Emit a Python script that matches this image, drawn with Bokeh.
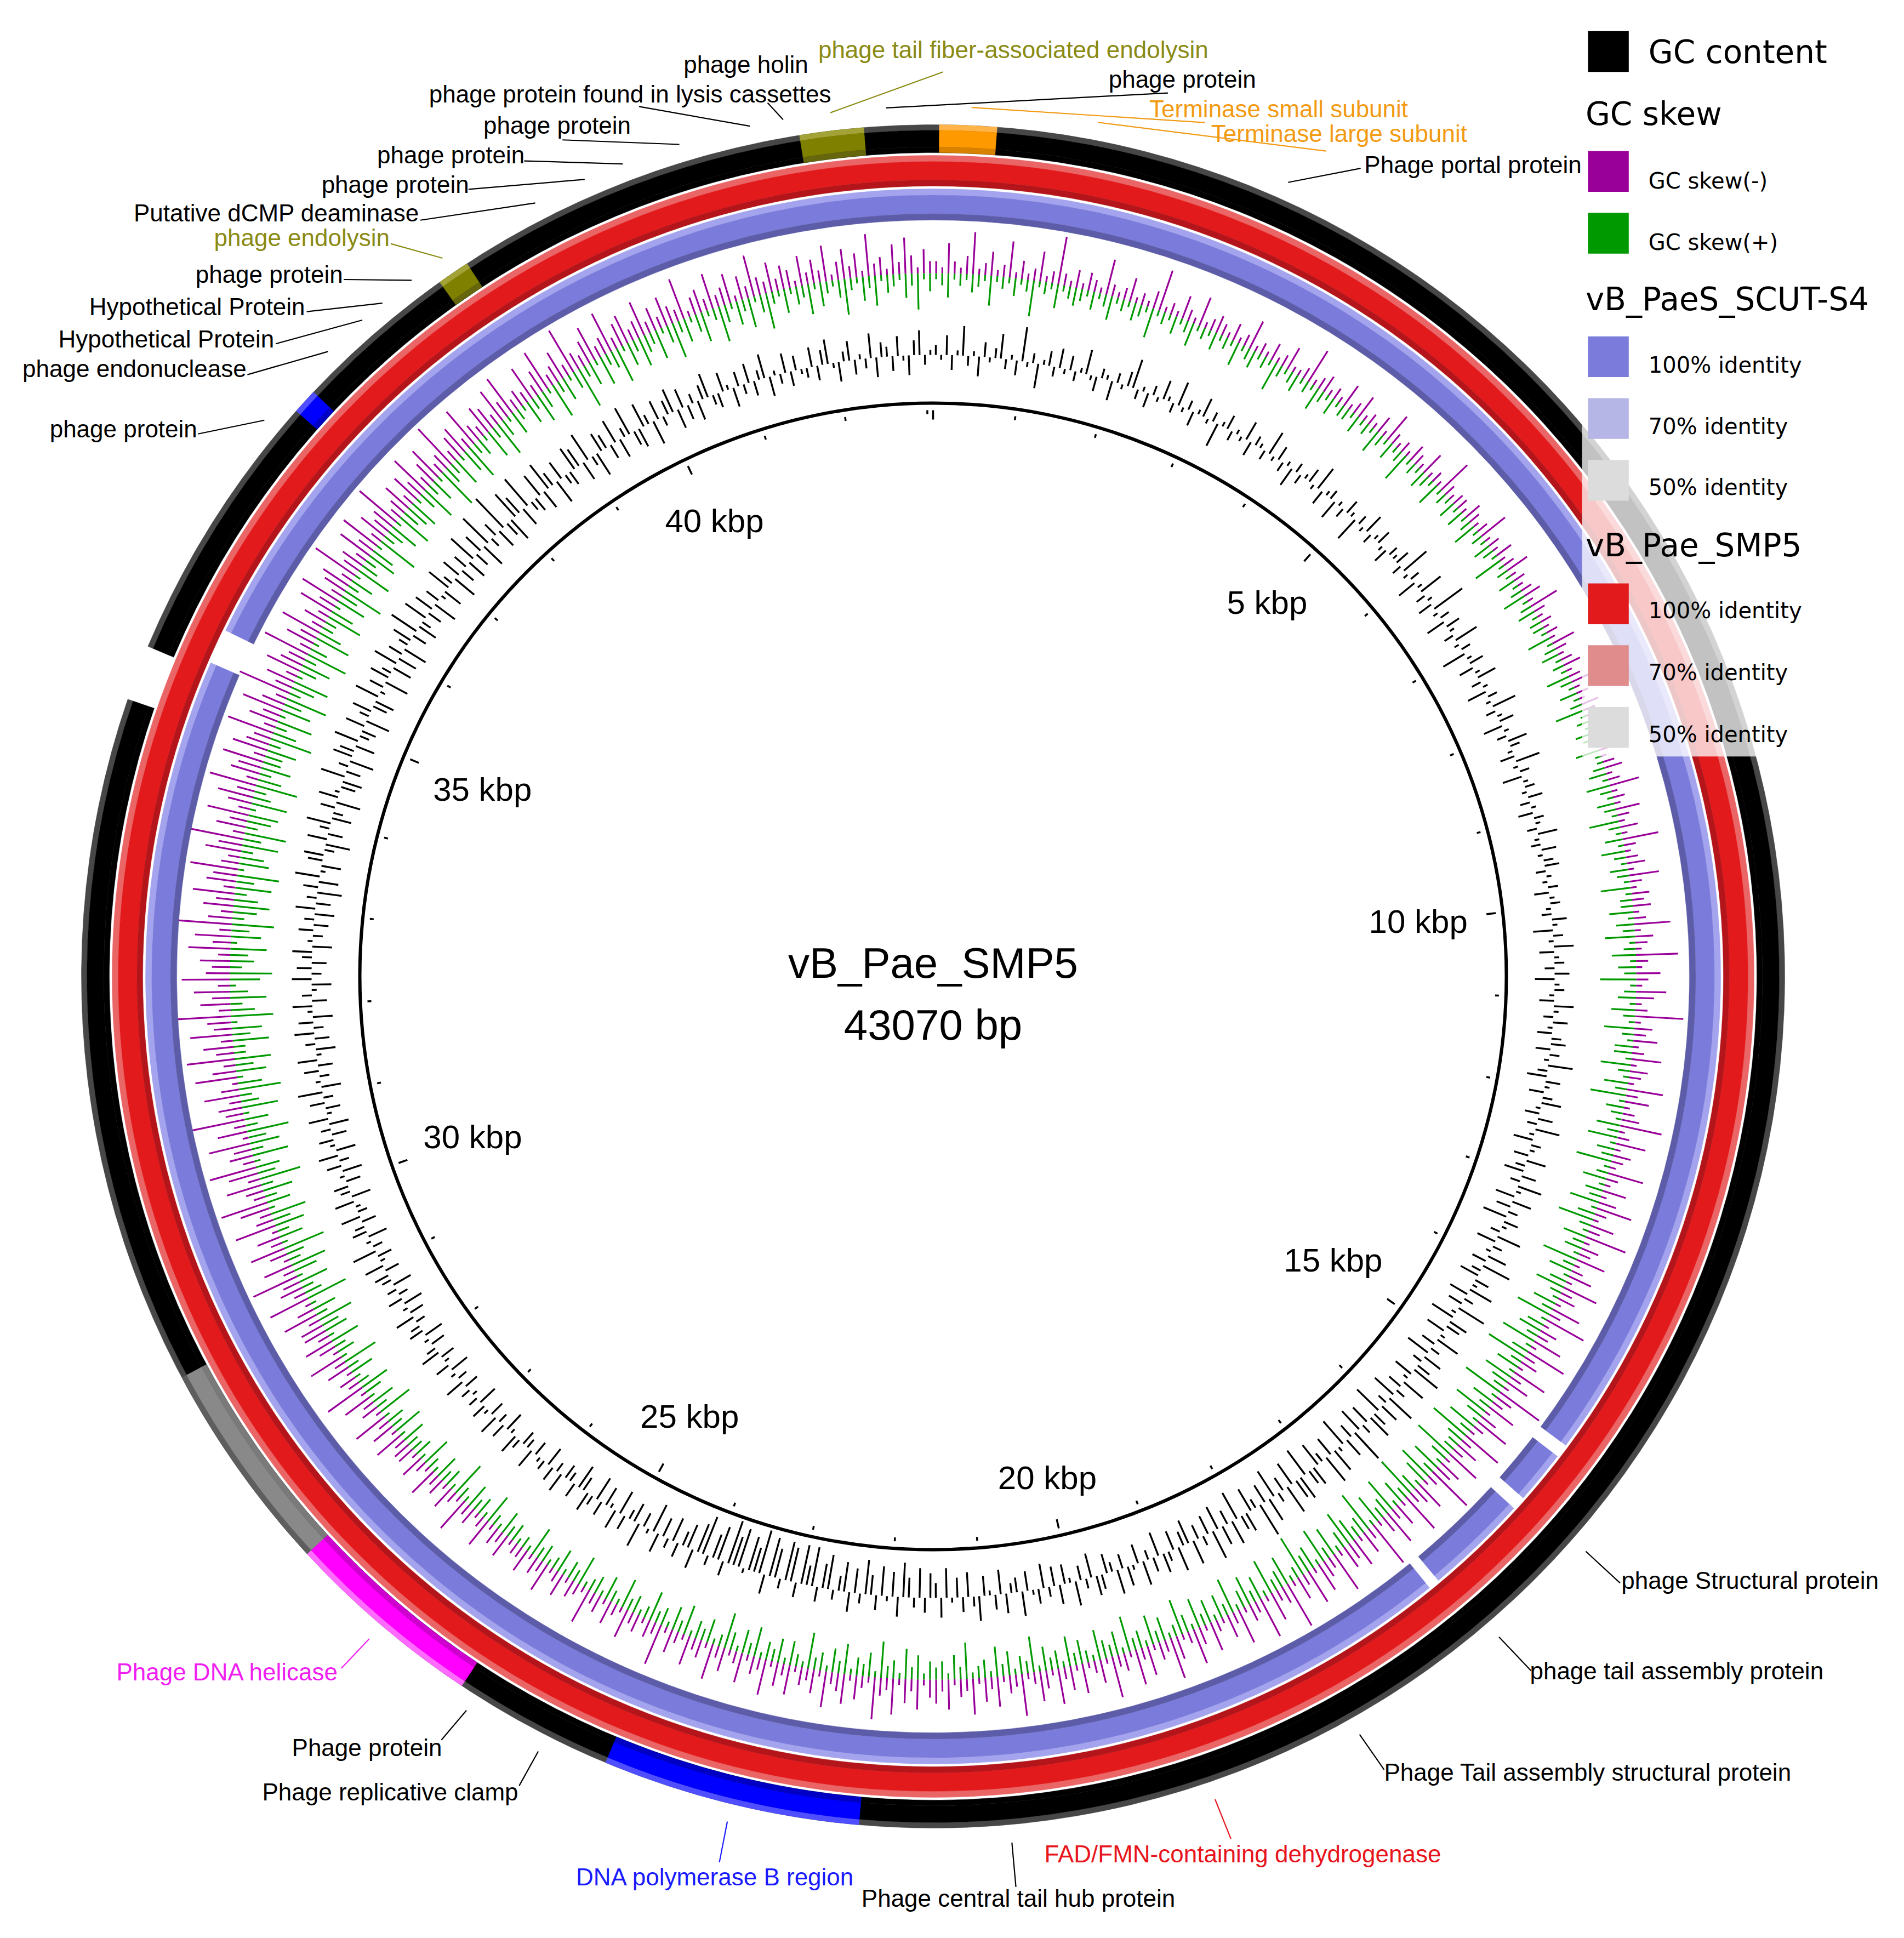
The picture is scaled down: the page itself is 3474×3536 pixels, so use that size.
import math
from bokeh.plotting import figure
from bokeh.models import Range1d
from bokeh.core.properties import value
from bokeh.embed import file_html
from bokeh.resources import INLINE

# ---------------- data ----------------
GENOME_NAME = "vB_Pae_SMP5"
GENOME_LEN = 43070
TICK_MAJOR = 5000
TICK_MINOR = 1000
TICK_LABEL_BP = [5000, 10000, 15000, 20000, 25000, 30000, 35000, 40000]
TICK_LABELS = ["5 kbp", "10 kbp", "15 kbp", "20 kbp", "25 kbp", "30 kbp", "35 kbp", "40 kbp"]

# coloured CDS features on the outer ring (bp)
FEATURE_START = [50, 41990, 38835, 37280, 25555, 27195, 22133]
FEATURE_END = [516, 42511, 39100, 37485, 27195, 28940, 24240]
FEATURE_COLOR = ["orange", "olive", "olive", "blue", "magenta", "gray", "blue"]
BACKBONE_GAP = [34575, 35030]

# BLAST hits
SMP5_HIT_START = [0]
SMP5_HIT_END = [43070]
SCUT_HIT_START = [0, 15260, 15850, 16860, 35420]
SCUT_HIT_END = [15140, 15730, 16760, 35110, 43070]

# annotated genes: label text, position (bp), colour
GENE_LABELS = [
    "phage tail fiber-associated endolysin", "phage holin", "phage protein found in lysis cassettes",
    "phage protein", "Terminase small subunit", "Terminase large subunit", "Phage portal protein",
    "phage protein", "phage protein", "phage protein", "Putative dCMP deaminase", "phage endolysin",
    "phage protein", "Hypothetical Protein", "Hypothetical Protein", "phage endonuclease", "phage protein",
    "phage Structural protein", "phage tail assembly protein", "Phage Tail assembly structural protein",
    "FAD/FMN-containing dehydrogenase", "Phage central tail hub protein", "DNA polymerase B region",
    "Phage replicative clamp", "Phage protein", "Phage DNA helicase"]
GENE_POS = [42259, 41882, 41615, 42699, 303, 1307, 2882, 41041, 40568, 40245, 39813, 38962,
            38663, 38370, 38163, 37797, 37058, 15718, 16679, 18022, 19272, 20913, 23172,
            24765, 25417, 26369]
GENE_COLOR = ["olive", "black", "black", "black", "orange", "orange", "black", "black", "black",
              "black", "black", "olive", "black", "black", "black", "black", "black", "black",
              "black", "black", "red", "black", "blue", "black", "black", "magenta"]

# GC content deviation per 0.5 degree window (arbitrary units, + outward)
GC_CONTENT = [
    2,-1,4,-3,1,6,-2,1,-4,3,-1,2,5,-2,1,-3,7,-1,2,-5,1,3,-2,4,
    -1,3,-2,1,5,-1,-3,2,1,-4,2,-1,3,6,-2,1,-3,2,-1,4,1,-2,5,-1,
    2,-3,1,4,-1,2,-5,1,3,-2,1,-1,4,-3,2,1,-2,5,-1,3,-2,1,-4,2,
    -2,1,3,-1,5,-3,1,2,-4,1,-2,3,1,-5,2,-1,4,-2,1,3,-1,-3,2,1,
    3,-2,6,-1,2,-4,1,5,-2,1,-3,7,-1,2,-4,3,1,-2,5,-1,2,-5,1,3,
    -3,1,4,-2,1,-4,2,-1,5,-2,1,3,-4,1,-2,4,2,-1,-3,5,-1,2,-4,1,
    2,-1,3,-2,1,-3,2,1,-2,4,-1,-2,3,-1,2,3,-2,1,-1,2,-3,1,2,-1,
    -2,3,1,-4,2,-1,4,-3,1,2,-2,3,-4,1,2,-1,-3,4,1,-2,3,-1,-3,2,
    3,-3,2,-1,5,-2,-4,3,1,-3,2,4,-1,-3,3,-2,5,-1,-4,2,1,-3,4,-2,
    -4,3,-2,5,1,-4,4,-3,2,-5,3,1,-2,5,-4,2,-1,4,-3,6,-2,-4,3,1,
    5,-4,2,-3,6,-1,-5,4,3,-4,1,5,-3,2,-5,4,-2,3,6,-4,-1,5,-3,2,
    -5,6,-2,4,-6,3,5,-4,2,-5,7,-3,4,-6,1,5,-4,6,-2,-5,4,3,-6,5,
    4,-5,6,-3,2,-6,5,-4,7,-2,-5,4,3,-6,5,-3,4,-5,6,-4,2,-3,5,-5,
    -3,5,-4,2,4,-5,3,-2,5,-4,1,4,-3,5,-2,-4,3,4,-5,2,-3,5,-1,-4,
    4,-4,2,-5,3,1,-4,5,-3,-2,4,-5,3,-1,-4,5,2,-5,3,-4,1,-6,4,-3,
    -5,3,-6,2,-4,-7,4,-5,1,-6,3,-4,-7,2,-5,4,-6,-3,2,-7,-5,3,-8,-4,
    -8,3,-7,-8,2,-6,-8,4,-9,-5,-7,1,-8,-6,-9,3,-7,-5,2,-8,-6,4,-5,-3,
    3,-5,2,-4,4,-6,1,-3,5,-4,-2,3,-5,4,-1,-4,3,-5,2,4,-3,-5,3,-2,
    -3,4,-2,3,-4,2,1,-3,4,-2,-3,2,4,-1,-4,3,-2,4,-3,1,3,-4,2,-1,
    2,-3,4,-2,1,-4,3,-1,-3,4,2,-3,1,-4,3,2,-2,4,-3,1,-4,3,-2,2,
    -4,2,3,-3,4,-1,-3,5,-2,1,-4,3,2,-3,4,-2,-1,4,-4,2,3,-3,1,-4,
    3,-2,4,-4,1,3,-3,2,-4,4,-1,-3,3,-2,5,-4,1,-2,3,-3,4,-1,-4,2,
    -3,4,-2,3,-4,1,4,-3,2,-1,-4,4,-2,3,-3,2,4,-4,1,-2,3,-3,2,-4,
    4,-3,2,-5,3,-4,5,-1,-4,3,4,-2,-5,4,-3,2,5,-4,-2,3,-5,4,1,-3,
    -4,5,-3,2,-5,4,3,-4,5,-2,-3,4,-5,2,4,-3,-4,5,-1,3,-5,4,2,-4,
    5,-4,3,-5,2,4,-3,6,-4,-2,5,-3,4,-5,3,-1,-4,5,2,-5,4,-3,3,-4,
    6,-3,4,-5,7,-2,3,-4,8,-3,-5,6,4,-4,7,-2,-3,5,-4,6,3,-5,4,-2,
    -3,5,4,-4,6,-2,-5,4,3,-3,5,-4,2,6,-3,-4,5,2,-5,4,-2,3,5,-4,
    4,-3,2,-4,3,5,-2,-3,4,1,-4,3,-2,4,-3,2,5,-4,1,-2,4,-3,3,-1,
    -2,4,-3,3,5,-1,-4,2,4,-3,1,-2,5,-4,3,2,-3,4,-1,-4,3,5,-2,1]

# GC skew(-) magnitude per 0.5 degree window (drawn outward, purple)
SKEW_NEG = [
    2,1,5,2,1,3,7,1,2,4,1,2,6,1,3,1,2,5,1,2,8,2,1,3,
    1,3,2,1,6,2,1,2,4,1,2,1,3,7,1,2,1,4,2,1,5,1,2,3,
    2,1,3,1,2,5,1,2,1,3,1,2,4,1,1,2,6,1,2,3,1,2,1,4,
    1,2,4,1,2,1,3,1,5,2,1,2,1,3,2,1,4,1,2,1,6,2,1,2,
    2,1,3,2,1,2,5,1,2,1,3,1,2,4,1,2,1,2,3,1,5,2,1,2,
    1,2,1,4,2,1,2,3,1,2,5,1,2,1,3,2,1,4,1,2,1,3,2,1,
    2,3,1,2,5,1,2,1,4,2,1,3,1,6,2,1,2,3,1,5,2,1,3,2,
    3,1,2,6,1,3,2,1,7,2,1,4,2,1,5,3,1,2,8,1,3,2,4,1,
    2,5,1,3,2,1,6,2,4,1,2,3,7,1,2,5,1,3,2,1,6,2,1,4,
    1,3,6,2,1,4,2,7,1,3,2,5,1,2,4,1,6,2,3,1,5,2,7,1,
    3,2,5,1,7,2,3,1,6,2,4,1,8,3,2,5,1,3,6,2,1,7,2,4,
    2,6,1,4,3,8,2,1,5,3,2,7,1,4,2,6,3,1,8,2,4,1,5,3,
    4,1,7,2,3,5,1,6,2,4,1,8,3,2,5,1,7,2,3,1,6,2,4,1,
    2,5,1,3,6,2,1,4,7,2,3,1,5,2,6,1,3,2,7,1,4,2,1,5,
    1,4,2,6,1,3,5,2,1,7,2,3,1,5,2,4,1,6,2,3,1,5,2,4,
    3,1,5,2,4,1,6,2,3,7,1,2,4,1,5,3,2,6,1,4,2,3,1,5,
    2,4,1,6,2,3,1,5,2,1,4,2,6,1,3,2,5,1,2,4,1,7,2,3,
    1,3,2,5,1,2,4,1,3,2,6,1,2,3,1,4,2,1,5,2,3,1,4,2,
    2,1,4,2,3,1,5,2,1,3,2,6,1,2,4,1,3,2,5,1,2,4,1,3,
    3,2,5,1,4,2,6,1,3,2,5,1,7,2,3,1,4,2,6,1,3,5,2,4,
    4,2,6,3,1,7,2,4,3,8,2,5,1,3,6,2,4,1,7,3,2,5,8,2,
    3,6,2,5,8,2,4,3,7,1,5,2,9,3,4,2,6,3,1,7,4,2,8,3,
    5,2,7,3,4,9,2,5,3,6,2,8,4,3,5,2,7,3,6,2,9,4,2,5,
    3,7,2,5,4,8,3,2,6,4,9,2,5,3,7,2,4,6,3,8,2,5,4,7,
    2,6,4,3,8,2,5,3,7,4,2,9,3,5,2,6,4,3,8,2,5,3,7,2,
    4,2,6,3,7,2,4,5,2,8,3,4,2,6,3,7,2,5,3,4,8,2,3,5,
    2,5,3,7,2,4,6,2,3,8,2,4,5,2,7,3,2,5,4,2,6,3,7,2,
    3,2,6,2,4,7,2,3,5,2,8,3,2,4,6,2,3,7,2,4,5,2,3,6,
    2,4,2,5,3,2,7,1,3,4,2,6,2,3,5,1,4,2,7,3,2,5,2,4,
    3,1,5,2,4,2,6,1,3,5,2,4,1,7,2,3,1,5,2,6,3,1,4,2]

# GC skew(+) magnitude per 0.5 degree window (drawn inward, green)
SKEW_POS = [
    1,2,4,1,2,1,3,2,1,5,1,2,1,3,1,2,6,1,2,1,4,1,2,3,
    2,1,3,1,2,4,1,2,1,3,2,1,5,1,2,1,3,1,2,4,1,2,1,3,
    1,2,1,4,1,2,3,1,2,1,5,2,1,2,3,1,2,1,4,2,1,3,1,2,
    2,1,3,1,2,1,4,2,1,3,1,2,5,1,2,1,3,2,1,4,1,2,1,3,
    1,3,1,2,4,1,2,1,3,2,1,5,1,2,1,3,1,2,4,1,2,3,1,2,
    2,1,4,1,2,3,1,2,1,4,2,1,3,1,2,5,1,2,1,3,2,1,4,1,
    1,2,3,1,4,2,1,3,2,1,5,2,1,3,1,4,2,1,3,2,1,5,1,2,
    2,4,1,3,2,5,1,2,4,1,3,2,6,1,2,3,1,4,2,1,5,2,1,3,
    3,1,5,2,1,4,2,6,1,3,2,1,4,2,5,1,3,2,6,1,2,4,1,3,
    2,5,1,3,6,2,1,4,2,3,1,6,2,4,1,3,5,2,1,4,2,6,1,3,
    4,2,6,1,3,7,2,4,1,5,3,2,7,1,4,2,6,3,1,5,2,7,3,2,
    2,7,3,1,5,2,6,4,1,3,7,2,4,1,6,3,2,5,1,7,3,2,4,6,
    3,1,5,2,6,1,4,3,7,2,1,5,3,2,6,1,4,2,5,3,1,6,2,4,
    1,4,2,5,1,3,6,2,1,4,2,5,1,3,2,6,1,4,2,3,5,1,2,4,
    2,5,1,3,2,4,1,6,2,3,1,4,2,5,1,3,2,1,6,2,4,1,3,2,
    3,1,4,2,5,1,3,2,6,1,4,2,3,1,5,2,4,1,3,2,6,1,2,4,
    1,4,2,3,1,5,2,4,1,3,6,2,1,4,2,3,1,5,2,4,1,3,2,5,
    2,1,3,2,5,1,2,4,1,3,2,1,5,2,3,1,4,2,1,3,2,5,1,2,
    1,3,2,4,1,2,5,1,3,2,4,1,2,6,1,3,2,4,1,2,5,1,3,2,
    2,4,1,5,2,3,1,6,2,4,1,3,5,2,1,4,2,6,1,3,2,5,1,4,
    3,6,2,4,1,7,3,2,5,1,4,6,2,3,7,1,4,2,5,3,6,1,4,2,
    5,2,7,3,4,1,6,2,5,3,7,2,4,1,6,3,2,7,4,1,5,3,6,2,
    2,6,3,5,1,7,4,2,6,3,1,5,7,2,4,3,6,1,5,3,7,2,4,6,
    4,2,6,3,7,1,5,4,2,6,3,7,2,4,5,1,6,3,2,7,4,2,5,3,
    3,5,2,7,4,2,6,1,5,3,7,2,4,6,1,3,5,2,7,3,1,6,4,2,
    2,6,4,1,5,3,7,2,4,1,6,3,2,5,4,1,7,2,3,5,1,6,3,4,
    5,1,3,6,2,4,1,7,3,2,5,1,4,6,2,3,1,5,2,6,3,1,4,2,
    1,4,2,5,3,1,6,2,4,1,3,7,2,4,1,5,2,3,6,1,4,2,5,3,
    2,5,1,3,6,2,4,1,3,5,1,2,6,3,1,4,2,5,1,3,6,2,1,4,
    1,3,2,5,1,4,2,1,3,6,2,1,4,2,5,1,3,2,1,4,2,6,1,3]

LEGEND_ITEMS = ["GC content", "GC skew", "GC skew(-)", "GC skew(+)", "vB_PaeS_SCUT-S4",
                "100% identity", "70% identity", "50% identity", "vB_Pae_SMP5",
                "100% identity", "70% identity", "50% identity"]
LEGEND_SWATCH = ["#000000", None, "#990099", "#009900", None, "#7b7bdb", "#b5b5e6", "#dcdcdc",
                 None, "#e31a1c", "#e08c8c", "#dcdcdc"]

# ---------------- styling / layout ----------------
W, H = 3474, 3536
CX, CY = 1702.0, 1781.0
CYD = H - CY
S = 2.2544
R_INNER = 1046
R_GC = 1134
R_SKEW = 1283
GC_UNIT = 9.0
SKEW_UNIT = 11.0
RING_BLUE = (1380, 1437)
RING_RED = (1442, 1498)
RING_FEAT = (1503, 1554)
R_LEADER = 1587
R_TICKLABEL = 983

SCHEME = {
    "black": ("#474747", "#000000", "#000000"),
    "orange": ("#ffb44a", "#ff9900", "#d88200"),
    "olive": ("#a2a236", "#808000", "#66660c"),
    "blue": ("#4f4fff", "#0000ff", "#0000c4"),
    "magenta": ("#ff6bff", "#ff00ff", "#cf00cf"),
    "gray": ("#5e5e5e", "#898989", "#7a7a7a"),
    "red": ("#ea6666", "#e31a1c", "#b3151a"),
    "lblue": ("#a4a4ee", "#7b7bdb", "#5c5ca8"),
}
TEXT_COLOR = {"black": "#000000", "olive": "#8a8a14", "orange": "#f29a14", "red": "#e8141c",
              "blue": "#1a1aff", "magenta": "#f01ef0"}

# label layout (design grid units): text left x, text centre y, leader outer end x, y
LABEL_LAYOUT = [
    (662, 40, 763, 58), (553, 52, 621, 83), (347, 76, 517, 86), (897, 64, 945, 75),
    (930, 88, 975, 99), (980, 108, 1073, 122), (1104, 133, 1101, 136), (391, 101, 455, 113),
    (305, 125, 424, 130), (260, 149, 379, 153), (108, 172, 340, 178), (173, 192, 316, 197),
    (158, 222, 278, 226), (72, 248, 248, 252), (47, 274, 223, 278), (18, 298, 200, 303),
    (40, 347, 160, 351), (1312, 1279, 1311, 1281), (1238, 1352, 1239, 1352), (1120, 1434, 1120, 1432),
    (845, 1500, 996, 1488), (697, 1536, 822, 1527), (466, 1519, 582, 1507), (212, 1450, 420, 1445),
    (236, 1414, 357, 1408), (94, 1353, 276, 1350)]


def deg(bp):
    return bp / GENOME_LEN * 360.0


def pol(theta_deg, r):
    t = math.radians(theta_deg)
    return CX + r * math.sin(t), CYD + r * math.cos(t)


def ang(bp):
    return math.pi / 2 - math.radians(deg(bp))


p = figure(width=3458, height=3520, output_backend="svg", toolbar_location=None,
           x_range=Range1d(0, 3458), y_range=Range1d(16, 3536),
           x_axis_type=None, y_axis_type=None, match_aspect=False)
p.min_border = 0
p.min_border_left = p.min_border_right = p.min_border_top = p.min_border_bottom = 0
p.outline_line_color = None
p.grid.visible = False
p.background_fill_color = "white"
p.border_fill_color = "white"


def radial_bars(values, base, unit, color, width, sign=1.0):
    n = len(values)
    x0, y0, x1, y1 = [], [], [], []
    for i, v in enumerate(values):
        if v == 0:
            continue
        th = (i + 0.5) * 360.0 / n
        a = pol(th, base)
        b = pol(th, base + sign * v * unit)
        x0.append(a[0]); y0.append(a[1]); x1.append(b[0]); y1.append(b[1])
    p.segment(x0=x0, y0=y0, x1=x1, y1=y1, line_color=color, line_width=width, line_cap="butt")


# GC skew
radial_bars(SKEW_NEG, R_SKEW, SKEW_UNIT, "#990099", 3.2, +1.0)
radial_bars(SKEW_POS, R_SKEW, SKEW_UNIT, "#009900", 3.2, -1.0)
# GC content
radial_bars(GC_CONTENT, R_GC, GC_UNIT, "#000000", 3.4, +1.0)

# backbone circle
p.annulus(x=[CX], y=[CYD], inner_radius=R_INNER - 3, outer_radius=R_INNER + 3, fill_color="black", line_color=None)

# ticks
tx0, ty0, tx1, ty1 = [], [], [], []
for bp in range(0, GENOME_LEN, TICK_MINOR):
    major = (bp % TICK_MAJOR == 0)
    a = pol(deg(bp), R_INNER - 13)
    b = pol(deg(bp), R_INNER - (30 if major else 20))
    tx0.append(a[0]); ty0.append(a[1]); tx1.append(b[0]); ty1.append(b[1])
p.segment(x0=tx0, y0=ty0, x1=tx1, y1=ty1, line_color="black", line_width=3.5)

# tick labels: placed inside the backbone, pulled in by half the label extent
lx, ly = [], []
for bp, lab in zip(TICK_LABEL_BP, TICK_LABELS):
    th = math.radians(deg(bp))
    half_w = 15.0 * len(lab)
    half_h = 25.0
    r = R_TICKLABEL - half_w * abs(math.sin(th)) - half_h * abs(math.cos(th))
    q = pol(deg(bp), r)
    lx.append(q[0]); ly.append(q[1])
p.text(x=lx, y=ly, text=TICK_LABELS, text_font=value("Liberation Sans"), text_font_size=value("60px"),
       text_align="center", text_baseline="middle", text_color="black")


def ring(starts, ends, rin, rout, scheme):
    width = rout - rin
    bands = [(rout - 0.2 * width, rout, scheme[0]),
             (rin + 0.2 * width, rout - 0.2 * width, scheme[1]),
             (rin, rin + 0.2 * width, scheme[2])]
    n = len(starts)
    for ri, ro, c in bands:
        p.annular_wedge(x=[CX] * n, y=[CYD] * n, inner_radius=ri, outer_radius=ro,
                        start_angle=[ang(e) for e in ends], end_angle=[ang(s) for s in starts],
                        fill_color=c, line_color=c, line_width=0.5)


ring(SCUT_HIT_START, SCUT_HIT_END, RING_BLUE[0], RING_BLUE[1], SCHEME["lblue"])
ring(SMP5_HIT_START, SMP5_HIT_END, RING_RED[0], RING_RED[1], SCHEME["red"])
ring([BACKBONE_GAP[1]], [BACKBONE_GAP[0] + GENOME_LEN], RING_FEAT[0], RING_FEAT[1], SCHEME["black"])
for s_, e_, c_ in zip(FEATURE_START, FEATURE_END, FEATURE_COLOR):
    ring([s_], [e_], RING_FEAT[0], RING_FEAT[1], SCHEME[c_])

# leader lines and gene labels
for text, pos, col, lay in zip(GENE_LABELS, GENE_POS, GENE_COLOR, LABEL_LAYOUT):
    a = pol(deg(pos), R_LEADER)
    bx, by = lay[2] * S, H - lay[3] * S
    lc = TEXT_COLOR[col]
    p.line(x=[a[0], bx], y=[a[1], by], line_color=lc, line_width=2.2)
    p.text(x=[lay[0] * S], y=[H - lay[1] * S], text=[text], text_font=value("Liberation Sans"),
           text_font_size=value("44px"), text_align="left", text_baseline="middle", text_color=lc)

# legend
p.quad(left=[2886], right=[W], top=[H], bottom=[H - 612 * S], fill_color="white", fill_alpha=0.76, line_color=None)
LEG_SQ_TOP = [25, None, 122, 172, None, 272, 322, 372, None, 472, 522, 572]
LEG_TXT_Y = [42, 92, 146, 196, 242, 295, 345, 394, 441, 494, 544, 594]
for item, sw, sq, ty in zip(LEGEND_ITEMS, LEGEND_SWATCH, LEG_SQ_TOP, LEG_TXT_Y):
    header = sw is None
    if not header:
        p.quad(left=[1285 * S], right=[1318 * S], top=[H - sq * S], bottom=[H - (sq + 33) * S],
               fill_color=sw, line_color=None)
    big = header or item == "GC content"
    tx = 1283 * S if header else 1334 * S
    p.text(x=[tx], y=[H - ty * S], text=[item], text_font=value("DejaVu Sans"),
           text_font_size=value("58px" if big else "40px"), text_align="left",
           text_baseline="middle", text_color="black")

# centre title
p.text(x=[CX, CX], y=[H - 1756, H - 1869], text=[GENOME_NAME, f"{GENOME_LEN} bp"],
       text_font=value("Liberation Sans"), text_font_size=value("78px"),
       text_align="center", text_baseline="middle", text_color="black")

open("out.html", "w").write(file_html(p, INLINE))
